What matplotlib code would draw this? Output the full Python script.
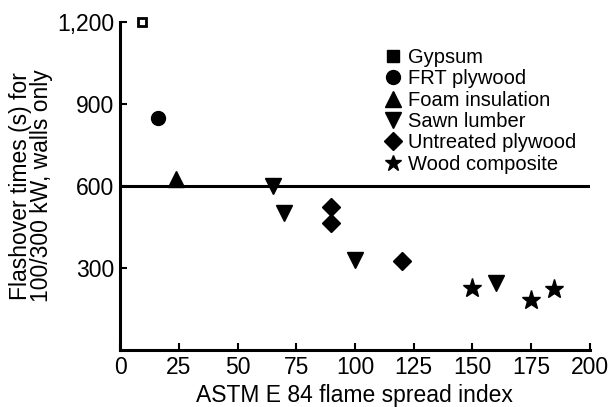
import matplotlib
matplotlib.use('Agg')
import matplotlib.pyplot as plt
from matplotlib.lines import Line2D

plt.rcParams['font.family'] = ['Liberation Sans', 'DejaVu Sans']

# flame spread index / flashover time (s)
gypsum_x = [9.5]
gypsum_y = [1200]
frt_x = [16]
frt_y = [850]
foam_x = [24]
foam_y = [625]
sawn_x = [65, 70, 100, 160]
sawn_y = [600, 500, 328, 245]
untreated_x = [90, 90, 120]
untreated_y = [523, 465, 326]
composite_x = [150, 175, 185]
composite_y = [227, 183, 223]

x_ticks = [0, 25, 50, 75, 100, 125, 150, 175, 200]
y_ticks = [300, 600, 900, 1200]
y_tick_labels = ['300', '600', '900', '1,200']

fig = plt.figure(figsize=(6.13, 4.07), dpi=100)
ax = fig.add_axes([0.196, 0.14, 0.766, 0.806])

ax.axhline(600, color='black', lw=2.2, zorder=1)

ax.plot(gypsum_x, gypsum_y, 's', mfc='white', mec='black', mew=2, ms=6, clip_on=False, zorder=3)
ax.plot(frt_x, frt_y, 'o', color='black', ms=10, clip_on=False, zorder=3)
ax.plot(foam_x, foam_y, '^', color='black', ms=11, zorder=3)
ax.plot(sawn_x, sawn_y, 'v', color='black', ms=11, zorder=3)
ax.plot(untreated_x, untreated_y, 'D', color='black', ms=9, zorder=3)
ax.plot(composite_x, composite_y, '*', color='black', ms=14, zorder=3)

ax.set_xlim(0, 200)
ax.set_ylim(0, 1200)
ax.set_xticks(x_ticks)
ax.set_yticks(y_ticks)
ax.set_yticklabels(y_tick_labels)
ax.tick_params(direction='in', length=5, width=1.5, labelsize=16.5, pad=4)

for s in ['top', 'right']:
    ax.spines[s].set_visible(False)
for s in ['left', 'bottom']:
    ax.spines[s].set_linewidth(2.2)

ax.set_xlabel('ASTM E 84 flame spread index', fontsize=16.5, labelpad=4)
ax.set_ylabel('Flashover times (s) for\n100/300 kW, walls only', fontsize=16.5,
              labelpad=3, linespacing=0.9)

handles = [
    Line2D([], [], ls='', marker='s', color='black', ms=8),
    Line2D([], [], ls='', marker='o', color='black', ms=10),
    Line2D([], [], ls='', marker='^', color='black', ms=11),
    Line2D([], [], ls='', marker='v', color='black', ms=11),
    Line2D([], [], ls='', marker='D', color='black', ms=9),
    Line2D([], [], ls='', marker='*', color='black', ms=12),
]
labels = ['Gypsum', 'FRT plywood', 'Foam insulation', 'Sawn lumber',
          'Untreated plywood', 'Wood composite']
ax.legend(handles, labels, loc='upper left', bbox_to_anchor=(0.545, 0.952),
          frameon=False, fontsize=14.5, handlelength=0.7, handletextpad=0.4,
          labelspacing=0.12, borderpad=0)

fig.savefig('out.png', dpi=100)
